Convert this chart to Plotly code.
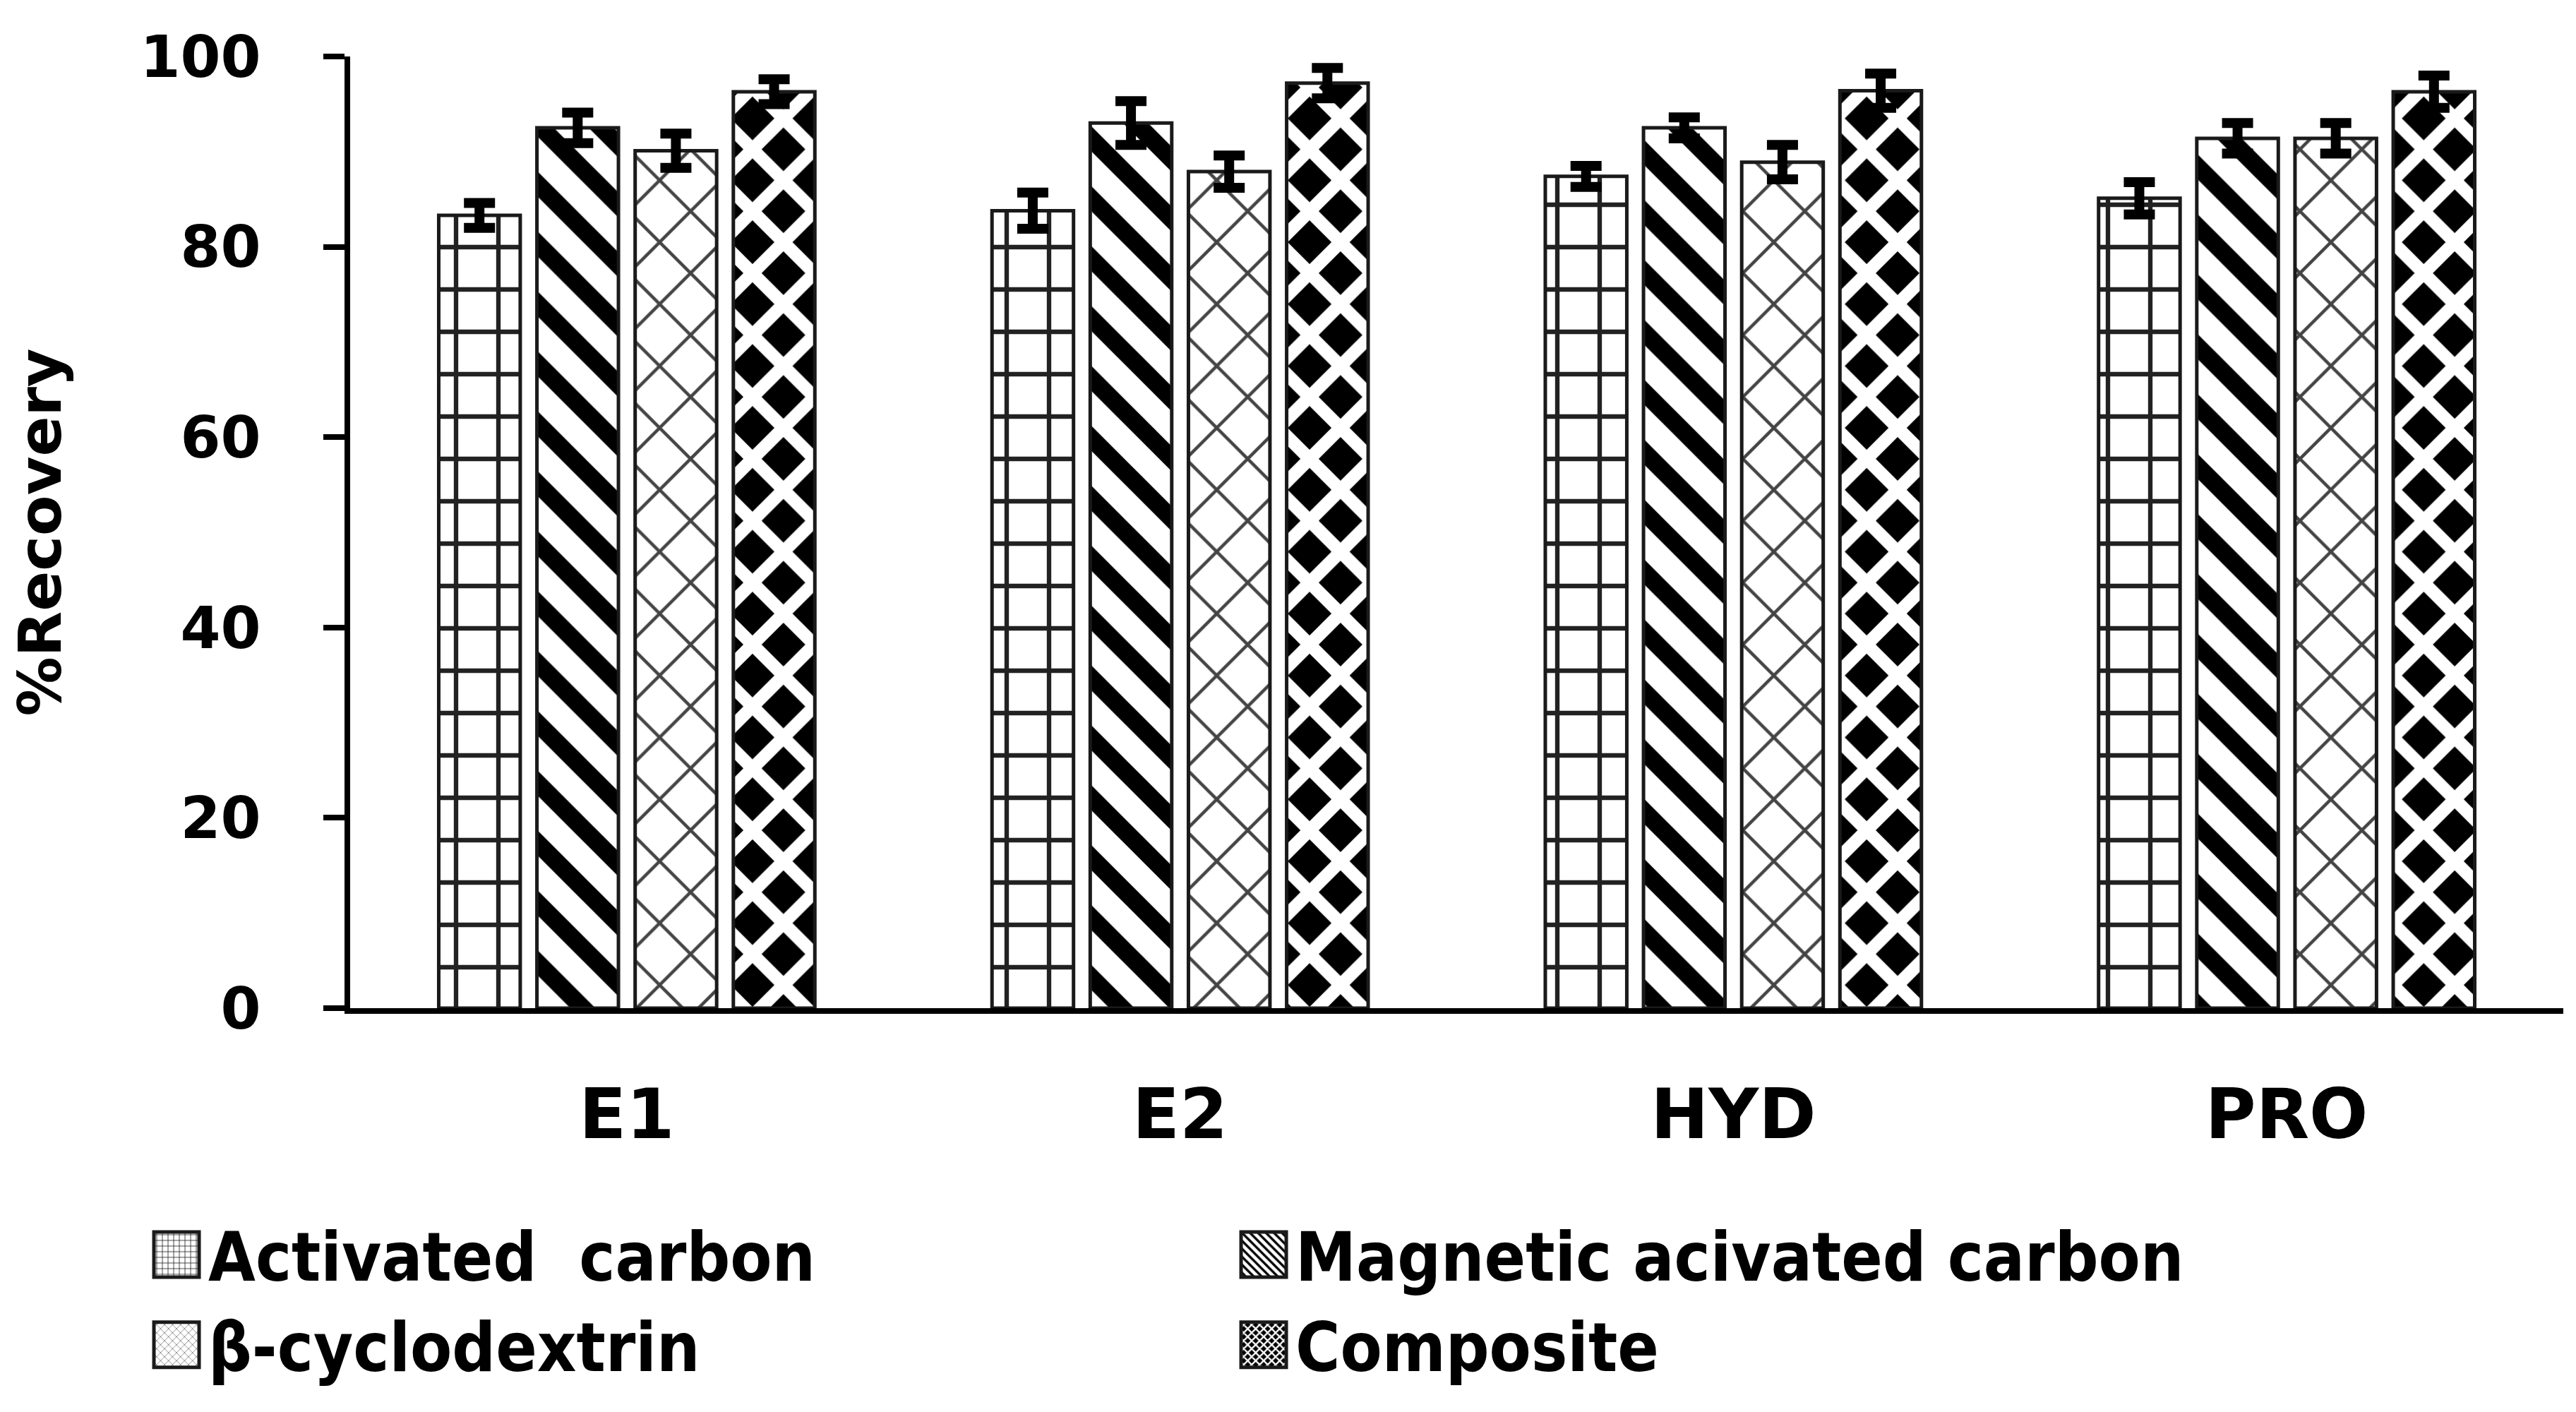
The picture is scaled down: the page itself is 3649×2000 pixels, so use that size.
import plotly.graph_objects as go

# data
categories = ["E1", "E2", "HYD", "PRO"]
series_names = ["Activated\u00a0 carbon", "Magnetic acivated carbon", "β-cyclodextrin", "Composite"]

activated_carbon = [83.3, 83.8, 87.4, 85.1]
activated_carbon_err = [1.3, 1.9, 1.1, 1.7]
magnetic_carbon = [92.5, 93.0, 92.5, 91.4]
magnetic_carbon_err = [1.6, 2.3, 1.1, 1.6]
cyclodextrin = [90.1, 87.9, 88.9, 91.4]
cyclodextrin_err = [1.8, 1.7, 1.8, 1.6]
composite = [96.3, 97.2, 96.4, 96.3]
composite_err = [1.3, 1.6, 1.8, 1.7]

values = [activated_carbon, magnetic_carbon, cyclodextrin, composite]
errors = [activated_carbon_err, magnetic_carbon_err, cyclodextrin_err, composite_err]

# hatch style for each series
patterns = [
    dict(shape="+", size=60, solidity=0.2, fgcolor="#222222", bgcolor="white"),
    dict(shape="\\", size=60, solidity=0.42, fgcolor="black", bgcolor="white"),
    dict(shape="x", size=62, solidity=0.14, fgcolor="#444444", bgcolor="white"),
    # white lattice over black -> staggered black diamonds
    dict(shape="x", size=62, solidity=0.5, fgcolor="white", bgcolor="black"),
]

fig = go.Figure()
for name, y, err, pat in zip(series_names, values, errors, patterns):
    fig.add_trace(
        go.Bar(
            x=categories,
            y=y,
            name=name,
            marker=dict(
                color="white",
                line=dict(color="#1a1a1a", width=5),
                pattern=dict(fillmode="replace", **pat),
            ),
            error_y=dict(type="data", array=err, visible=True, color="black", thickness=14, width=22),
        )
    )

fig.update_layout(
    width=3649,
    height=2000,
    margin=dict(l=488, r=26, t=72, b=580),
    paper_bgcolor="white",
    plot_bgcolor="white",
    barmode="group",
    bargap=0.29,
    bargroupgap=0.17,
    showlegend=True,
    legend=dict(
        orientation="h",
        xref="container",
        yref="container",
        x=0.054,
        y=0.15,
        xanchor="left",
        yanchor="top",
        entrywidth=1445,
        entrywidthmode="pixels",
        itemwidth=80,
        tracegroupgap=0,
        font=dict(family="Liberation Sans Narrow, DejaVu Sans Condensed, sans-serif", size=96, color="black", weight="bold"),
        traceorder="normal",
    ),
    xaxis=dict(
        showline=True,
        linewidth=8,
        linecolor="black",
        ticks="",
        showgrid=False,
        tickfont=dict(family="DejaVu Sans", size=98, color="black", weight="bold"),
        ticklabelstandoff=58,
    ),
    yaxis=dict(
        range=[0, 100],
        dtick=20,
        showline=True,
        linewidth=8,
        linecolor="black",
        ticks="outside",
        ticklen=30,
        tickwidth=8,
        tickcolor="black",
        showgrid=False,
        zeroline=False,
        tickfont=dict(family="DejaVu Sans", size=82, color="black", weight="bold"),
        ticklabelstandoff=72,
        title=dict(text="%Recovery", font=dict(family="DejaVu Sans", size=84, color="black", weight="bold"), standoff=100),
    ),
)

# bigger legend swatches so the hatching shows like in the reference
post = """
document.querySelectorAll('.legend .legendpoints path').forEach(function(p){
    p.setAttribute('d', 'M32,32H-32V-32H32Z');
});
"""

fig.write_html("out.html", post_script=post)
